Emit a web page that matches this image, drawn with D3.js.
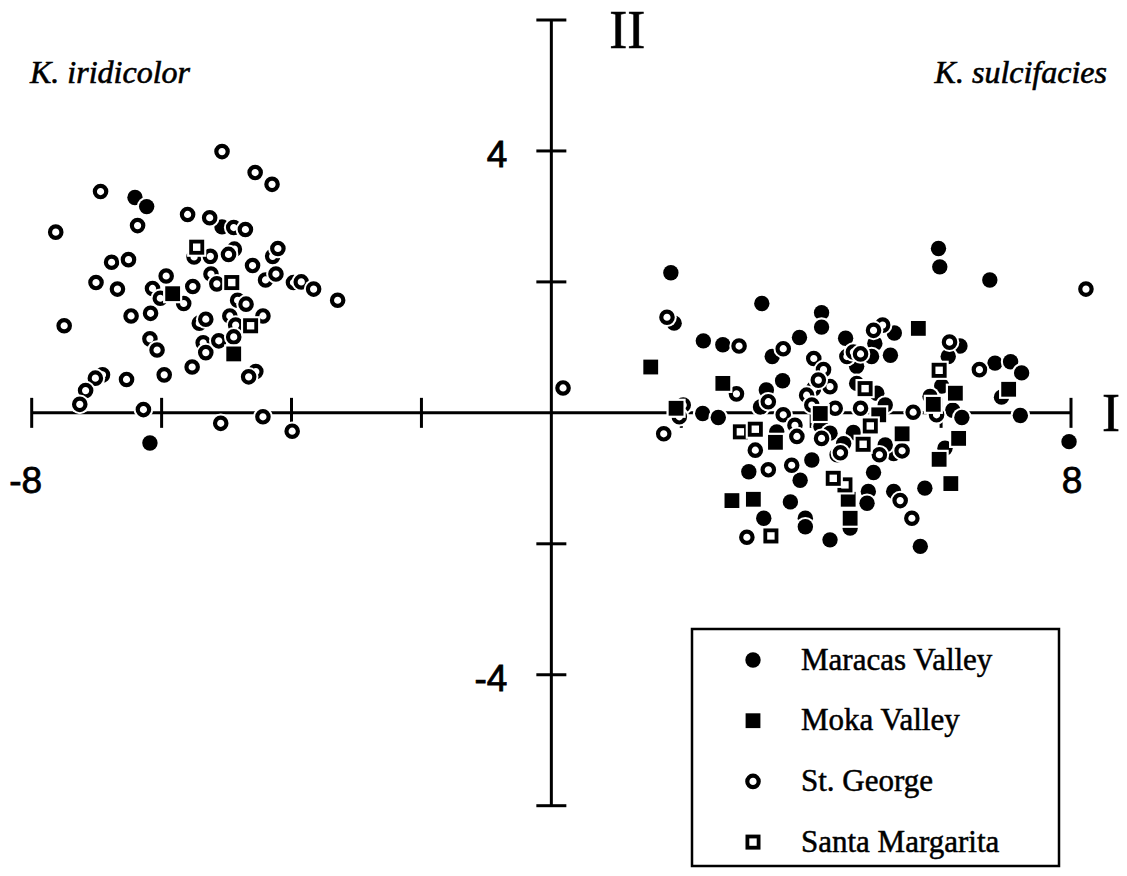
<!DOCTYPE html>
<html>
<head>
<meta charset="utf-8">
<script src="https://cdn.jsdelivr.net/npm/d3@7"></script>
<style>
  html, body { margin: 0; padding: 0; background: #fff; }
  svg { display: block; }
</style>
</head>
<body>
<svg id="chart"></svg>
<script>
// canvas size, same as the reference
const W = 1127, H = 876;

// series (x = axis I, y = axis II)
const maracasValley = [
  [-6.41, 3.29], [-6.23, 3.15], [-5.07, 2.84], [-6.18, -0.46],
  [1.84, 2.14], [1.89, 1.37], [2.34, 1.10], [2.64, 1.04], [3.24, 1.67],
  [4.16, 1.53], [4.16, 1.31], [3.82, 1.15], [3.40, 0.86], [4.53, 1.14],
  [3.56, 0.49], [3.31, 0.35], [3.22, 0.09], [2.33, -0.01], [2.57, -0.07],
  [3.47, -0.29], [3.04, -0.90], [4.01, -0.72], [3.83, -1.03], [3.68, -1.36],
  [3.27, -1.61], [3.91, -1.61], [3.91, -1.74], [4.29, -1.94], [4.60, -1.76],
  [4.65, -0.30], [4.98, 1.06], [4.93, 0.86], [5.22, 0.88], [4.70, 0.71],
  [5.28, 1.22], [5.96, 2.51], [5.98, 2.23], [6.75, 2.03], [6.29, 1.02],
  [6.11, 0.86], [6.83, 0.76], [7.07, 0.78], [7.24, 0.61], [6.93, 0.24],
  [7.22, -0.04], [7.97, -0.44], [6.01, 0.41], [5.83, 0.25], [6.18, 0.04],
  [6.32, -0.07], [5.01, 0.30], [5.14, 0.12], [4.96, -0.91], [5.75, -1.15],
  [4.88, -1.20], [4.86, -1.38], [5.27, -1.20], [5.68, -2.04], [6.06, -0.54],
  [5.27, -0.62], [5.14, -0.49], [4.15, -0.21], [4.29, -0.31], [4.50, -0.47],
  [3.95, 0.23], [4.70, 0.45]
];

const mokaValley = [
  [-5.83, 1.82], [-4.89, 0.90],
  [1.53, 0.70], [1.92, 0.07], [2.64, 0.45], [3.45, -0.45], [2.78, -1.34],
  [3.11, -1.32], [4.14, -0.01], [4.60, -1.61], [4.57, -1.32], [5.65, 1.29],
  [6.22, 0.30], [5.88, 0.13], [5.04, -0.03], [5.40, -0.32], [6.27, -0.39],
  [5.97, -0.71], [6.15, -1.08], [7.04, 0.36]
];

const stGeorge = [
  [-5.07, 3.99], [-4.56, 3.67], [-4.30, 3.49], [-6.94, 3.38], [-6.37, 2.86],
  [-7.63, 2.76], [-5.60, 3.03], [-5.26, 2.98], [-4.89, 2.83], [-4.71, 2.80],
  [-4.88, 2.50], [-4.97, 2.42], [-5.50, 2.38], [-5.25, 2.39], [-6.77, 2.30],
  [-6.51, 2.34], [-4.60, 2.25], [-4.29, 2.39], [-4.21, 2.51], [-4.40, 2.03],
  [-4.24, 2.12], [-7.01, 1.99], [-6.68, 1.89], [-5.93, 2.09], [-6.14, 1.90],
  [-6.02, 1.75], [-5.66, 1.67], [-5.52, 1.93], [-5.24, 2.12], [-5.15, 1.97],
  [-3.97, 1.99], [-3.85, 2.00], [-3.66, 1.89], [-3.29, 1.72], [-4.83, 1.72],
  [-4.70, 1.66], [-7.50, 1.33], [-6.47, 1.48], [-6.17, 1.52], [-5.42, 1.37],
  [-5.32, 1.43], [-4.95, 1.48], [-4.86, 1.34], [-4.44, 1.48], [-5.36, 1.07],
  [-5.32, 0.92], [-5.12, 1.10], [-4.89, 1.16], [-6.18, 1.13], [-6.07, 0.96],
  [-5.53, 0.70], [-5.96, 0.58], [-6.54, 0.51], [-6.91, 0.58], [-7.02, 0.53],
  [-7.17, 0.34], [-7.26, 0.13], [-4.55, 0.63], [-4.66, 0.55], [-6.28, 0.05],
  [-5.09, -0.16], [-4.44, -0.06], [-3.99, -0.28],
  [0.18, 0.38],
  [1.78, 1.46], [2.89, 1.02], [1.73, -0.32], [3.57, 0.98], [2.85, 0.29],
  [3.34, 0.17], [3.57, -0.03], [3.75, -0.19], [3.14, -0.57], [4.04, 0.83],
  [4.19, 0.66], [4.04, 0.37], [4.29, 0.40], [3.93, 0.27], [4.37, 0.07],
  [4.55, 0.86], [4.65, 0.93], [4.16, -0.39], [4.40, -0.64], [3.34, -0.87],
  [3.70, -0.80], [3.01, -1.90], [5.10, 1.34], [4.96, 1.26], [4.76, 0.90],
  [6.13, 1.08], [6.59, 0.66], [5.57, 0.01], [4.76, 0.07], [5.93, -0.03],
  [5.40, -0.58], [5.05, -0.64], [4.45, -0.61], [5.37, -1.34], [5.55, -1.61],
  [8.23, 1.89], [4.01, 0.12], [3.78, -0.36], [4.11, 0.50], [2.03, 0.12],
  [1.97, -0.06]
];

const santaMargarita = [
  [-5.46, 2.53], [-4.92, 1.99], [-4.63, 1.33],
  [2.91, -0.29], [3.14, -0.25], [4.52, -1.10], [4.34, -1.00], [3.38, -1.88],
  [5.97, 0.65], [4.83, 0.37], [4.91, -0.20], [4.80, -0.48]
];

// axis extents and labelled ticks
const xDomain = [-8, 8];
const yDomain = [-6, 6];
const xTicks = [-8, -6, -4, -2, 0, 2, 4, 6, 8];
const yTicks = [-6, -4, -2, 0, 2, 4, 6];
const xTickLabels = [-8, 8];
const yTickLabels = [4, -4];

const legendNames = ["Maracas Valley", "Moka Valley", "St. George", "Santa Margarita"];

const $svg = d3.select('#chart')
  .attr('width', W)
  .attr('height', H);

const x = d3.scaleLinear().domain(xDomain).range([31.7, 1071]);
const y = d3.scaleLinear().domain(yDomain).range([805.7, 20]);

const x0 = x(0), y0 = y(0);
const TICK = 15;

// axes: crossing lines with ticks through both sides
const $axes = $svg.append('g')
  .attr('stroke', '#000')
  .attr('stroke-width', 3)
  .attr('fill', 'none');

$axes.append('line')
  .attr('x1', x(xDomain[0])).attr('x2', x(xDomain[1]))
  .attr('y1', y0).attr('y2', y0);

$axes.append('line')
  .attr('x1', x0).attr('x2', x0)
  .attr('y1', y(yDomain[0])).attr('y2', y(yDomain[1]));

$axes.selectAll('.xt')
  .data(xTicks.filter(d => d !== 0))
  .join('line')
  .attr('class', 'xt')
  .attr('x1', d => x(d)).attr('x2', d => x(d))
  .attr('y1', y0 - TICK).attr('y2', y0 + TICK);

$axes.selectAll('.yt')
  .data(yTicks.filter(d => d !== 0))
  .join('line')
  .attr('class', 'yt')
  .attr('x1', x0 - TICK).attr('x2', x0 + TICK)
  .attr('y1', d => y(d)).attr('y2', d => y(d));

// numeric tick labels (the scan is heavy, so a thin stroke is added)
const numFont = "'Liberation Sans', Arial, sans-serif";

$svg.selectAll('.xl')
  .data(xTickLabels)
  .join('text')
  .attr('class', 'xl')
  .attr('x', d => x(d) + (d < 0 ? -6 : 1))
  .attr('y', y0 + 80)
  .attr('text-anchor', 'middle')
  .attr('font-family', numFont)
  .attr('font-size', 37)
  .attr('stroke', '#000').attr('stroke-width', 0.8)
  .text(d => d);

$svg.selectAll('.yl')
  .data(yTickLabels)
  .join('text')
  .attr('class', 'yl')
  .attr('x', x0 - 44)
  .attr('y', d => y(d) + 16)
  .attr('text-anchor', 'end')
  .attr('font-family', numFont)
  .attr('font-size', 37)
  .attr('stroke', '#000').attr('stroke-width', 0.8)
  .text(d => d);

// axis names
const serif = "'Liberation Serif', 'Times New Roman', serif";

$svg.append('text')
  .attr('x', x0 + 58).attr('y', 48)
  .attr('font-family', serif).attr('font-size', 54)
  .attr('stroke', '#000').attr('stroke-width', 0.6)
  .text('II');

$svg.append('text')
  .attr('x', x(xDomain[1]) + 31).attr('y', y0 + 18)
  .attr('font-family', serif).attr('font-size', 54)
  .attr('stroke', '#000').attr('stroke-width', 0.6)
  .text('I');

// species names
$svg.append('text')
  .attr('x', 30).attr('y', 83)
  .attr('font-family', serif).attr('font-style', 'italic')
  .attr('font-size', 32)
  .attr('stroke', '#000').attr('stroke-width', 0.6)
  .text('K. iridicolor');

$svg.append('text')
  .attr('x', 1107).attr('y', 83)
  .attr('text-anchor', 'end')
  .attr('font-family', serif).attr('font-style', 'italic')
  .attr('font-size', 32)
  .attr('stroke', '#000').attr('stroke-width', 0.6)
  .text('K. sulcifacies');

// markers: each gets a white halo so overlaps look cut out
const drawMarker = function(g, kind) {
  if (kind === 'dot' || kind === 'ring') {
    g.append('circle').attr('r', 9.8).attr('fill', '#fff');
  } else {
    g.append('rect').attr('x', -9.6).attr('y', -9.6)
      .attr('width', 19.2).attr('height', 19.2).attr('fill', '#fff');
  }
  if (kind === 'dot') {
    g.append('circle').attr('r', 7.7).attr('fill', '#000');
  } else if (kind === 'ring') {
    g.append('circle').attr('r', 5.7)
      .attr('fill', '#fff').attr('stroke', '#000').attr('stroke-width', 4.2);
  } else if (kind === 'sq') {
    g.append('rect').attr('x', -7.4).attr('y', -7.4)
      .attr('width', 14.8).attr('height', 14.8).attr('fill', '#000');
  } else {
    g.append('rect').attr('x', -5.6).attr('y', -5.6)
      .attr('width', 11.2).attr('height', 11.2)
      .attr('fill', '#fff').attr('stroke', '#000').attr('stroke-width', 3.8);
  }
};

const series = [
  { data: maracasValley, kind: 'dot' },
  { data: stGeorge, kind: 'ring' },
  { data: mokaValley, kind: 'sq' },
  { data: santaMargarita, kind: 'osq' }
];

const $pts = $svg.append('g');
series.forEach(function(s) {
  $pts.selectAll(null)
    .data(s.data)
    .join('g')
    .attr('transform', d => `translate(${x(d[0])},${y(d[1])})`)
    .each(function() { drawMarker(d3.select(this), s.kind); });
});

// legend box
const $leg = $svg.append('g').attr('transform', 'translate(692,629)');
$leg.append('rect')
  .attr('width', 367).attr('height', 237)
  .attr('fill', '#fff').attr('stroke', '#000').attr('stroke-width', 2.5);

const legendKinds = ['dot', 'sq', 'ring', 'osq'];
legendNames.forEach(function(name, i) {
  const row = $leg.append('g').attr('transform', `translate(0,${31 + i * 60.7})`);
  const sym = row.append('g').attr('transform', 'translate(61,0)');
  drawMarker(sym, legendKinds[i]);
  row.append('text')
    .attr('x', 109).attr('y', 9.5)
    .attr('font-family', serif).attr('font-size', 31)
    .attr('stroke', '#000').attr('stroke-width', 0.5)
    .text(name);
});
</script>
</body>
</html>
